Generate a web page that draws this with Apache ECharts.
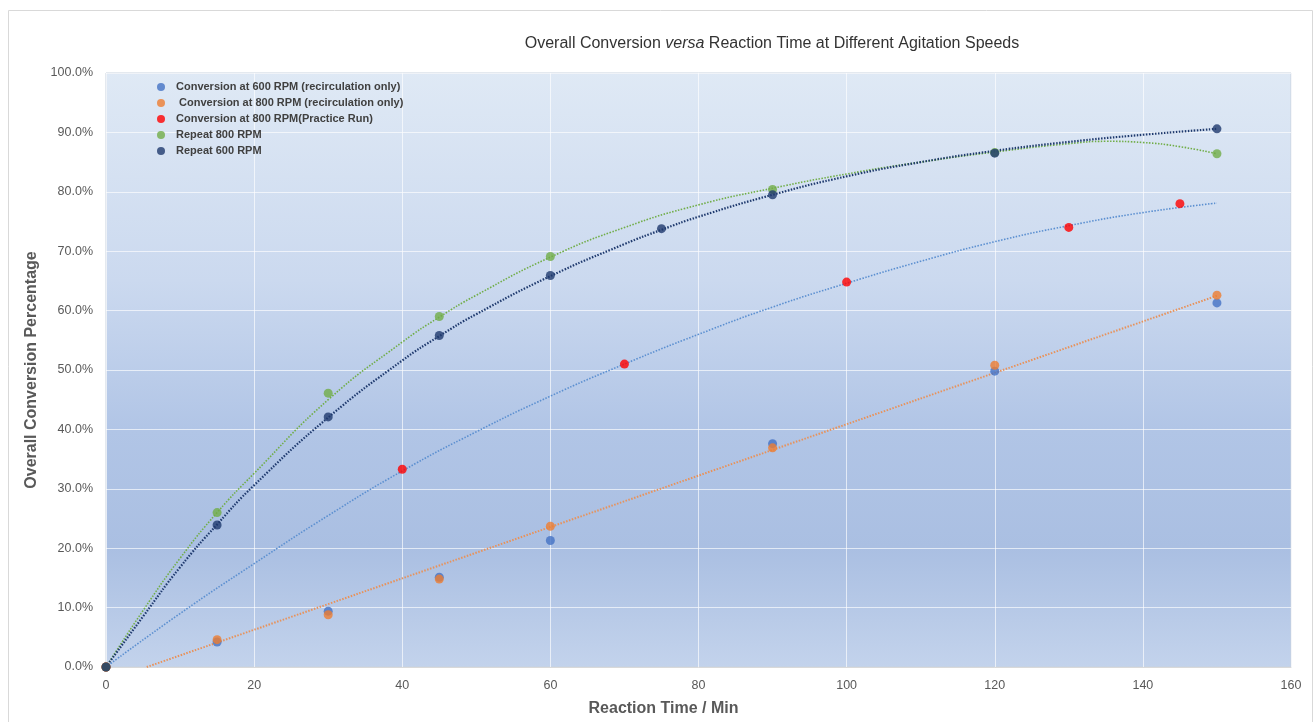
<!DOCTYPE html>
<html>
<head>
<meta charset="utf-8">
<script src="https://cdn.jsdelivr.net/npm/echarts@6/dist/echarts.min.js"></script>
<style>
html,body{margin:0;padding:0;background:#fff;}
#chart{width:1314px;height:722px;}
</style>
</head>
<body>
<div id="chart"></div>
<script>
// ---- data ----
const seriesNames = [
  'Conversion at 600 RPM (recirculation only)',
  ' Conversion at 800 RPM (recirculation only)',
  'Conversion at 800 RPM(Practice Run)',
  'Repeat 800 RPM',
  'Repeat 600 RPM'
];
const recirc600 = [[0,0],[15,4.2],[30,9.4],[45,15.1],[60,21.3],[90,37.6],[120,49.8],[150,61.3]];
const recirc800 = [[0,0],[15,4.6],[30,8.8],[45,14.8],[60,23.7],[90,36.9],[120,50.8],[150,62.6]];
const practice800 = [[0,0],[40,33.3],[70,51.0],[100,64.8],[130,74.0],[145,78.0]];
const repeat800 = [[0,0],[15,26.0],[30,46.1],[45,59.0],[60,69.1],[90,80.4],[120,86.6],[150,86.4]];
const repeat600 = [[0,0],[15,23.9],[30,42.1],[45,55.8],[60,65.9],[75,73.8],[90,79.5],[120,86.5],[150,90.6]];

// trend lines
const trendOrange = [[5.5,0],[150,62.5]];
const trendLightBlue = [[0,0],[10,9],[20,17.4],[30,25.5],[40,33],[50,39.6],[60,45.6],[70,51],[80,56],[90,60.6],[100,64.6],[110,68.3],[120,71.6],[130,74.3],[140,76.5],[150,78.1]];
const trendGreen = [[0,0],[5,9.5],[10,18.3],[15,26],[20,32.6],[30,45],[40,54.7],[45,58.9],[50,62.6],[60,69],[70,74],[80,77.8],[90,80.6],[100,83],[110,85],[120,86.7],[130,88.1],[135,88.5],[140,88.3],[145,87.6],[150,86.4]];
const trendNavy = [[0,0],[5,8.5],[10,16.8],[15,24],[20,30.6],[30,42],[40,51.6],[45,55.7],[50,59.4],[60,65.8],[70,71.2],[75,73.6],[80,75.8],[90,79.5],[100,82.6],[110,85],[120,86.9],[130,88.4],[140,89.6],[150,90.6]];

const colors = ['#4472c4','#ed7d31','#ff0000','#70ad47','#1f3a6e'];
const font = "'Liberation Sans', Arial, sans-serif";

const chart = echarts.init(document.getElementById('chart'), null, {renderer:'canvas'});

function scatter(name, data, color){
  return {name, type:'scatter', data, symbol:'circle', symbolSize:9, z:5,
    itemStyle:{color}};
}
function trend(data, color, width){
  return {type:'line', data, showSymbol:false, smooth:true, silent:true, z:3,
    lineStyle:{color, width:width||2, type:[1.5,1.5]}};
}

chart.setOption({
  animation:false,
  textStyle:{fontFamily:font},
  graphic:[{type:'rect', shape:{x:8.5,y:10.5,width:1304,height:720}, style:{fill:'none', stroke:'#d9d9d9', lineWidth:1}, silent:true, z:-10}],
  title:{
    text:'{a|Overall Conversion }{b|versa}{a| Reaction Time at Different Agitation Speeds}',
    left:767, top:31, textAlign:'center',
    textStyle:{fontWeight:'normal', rich:{
      a:{fontSize:16, color:'#333333', fontFamily:font, fontWeight:'normal'},
      b:{fontSize:16, color:'#333333', fontFamily:font, fontStyle:'italic', fontWeight:'normal'}
    }}
  },
  legend:{
    data:seriesNames, orient:'vertical', left:152, top:76,
    icon:'circle', itemWidth:8, itemHeight:8, itemGap:4,
    textStyle:{fontSize:11, fontWeight:'bold', color:'#404040', lineHeight:12, fontFamily:font, padding:[0,0,0,6]}
  },
  grid:{left:106, top:73, width:1185, height:596, show:true,
    borderColor:'#c8d2df', borderWidth:1,
    backgroundColor:{type:'linear', x:0, y:0, x2:0, y2:1, colorStops:[
      {offset:0, color:'#dfe9f5'},
      {offset:0.35, color:'#cbd9ef'},
      {offset:0.6, color:'#b1c5e6'},
      {offset:0.8, color:'#aabfe2'},
      {offset:1, color:'#c3d3ec'}
    ]}
  },
  xAxis:{type:'value', min:0, max:160, interval:20,
    name:'Reaction Time / Min', nameLocation:'middle', nameGap:34,
    nameTextStyle:{fontSize:16, fontWeight:'bold', color:'#595959', padding:[0,70,0,0]},
    axisLine:{show:true, lineStyle:{color:'#d9d9d9'}},
    axisTick:{show:false},
    axisLabel:{fontSize:12.5, color:'#595959', margin:12},
    splitLine:{show:true, lineStyle:{color:'rgba(255,255,255,0.65)', width:1}}
  },
  yAxis:{type:'value', min:0, max:100, interval:10,
    name:'Overall Conversion Percentage', nameLocation:'middle', nameGap:55,
    nameTextStyle:{fontSize:16, fontWeight:'bold', color:'#595959'},
    axisLine:{show:false}, axisTick:{show:false},
    axisLabel:{fontSize:12.5, color:'#595959', margin:13, formatter:v=>v.toFixed(1)+'%'},
    splitLine:{show:true, lineStyle:{color:'rgba(255,255,255,0.65)', width:1}}
  },
  series:[
    trend(trendOrange, '#e8925a', 2),
    trend(trendLightBlue, '#5b8fd0', 1.6),
    trend(trendGreen, '#70ad47', 1.6),
    trend(trendNavy, '#1f3a6e', 2.2),
    scatter(seriesNames[0], recirc600, colors[0]),
    scatter(seriesNames[1], recirc800, colors[1]),
    scatter(seriesNames[2], practice800, colors[2]),
    scatter(seriesNames[3], repeat800, colors[3]),
    scatter(seriesNames[4], repeat600, colors[4])
  ]
});
</script>
</body>
</html>
